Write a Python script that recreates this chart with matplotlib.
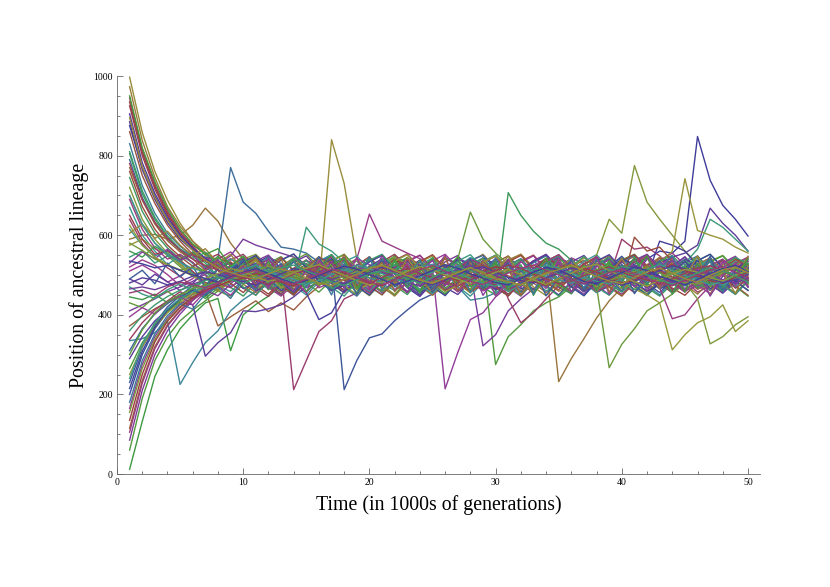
import colorsys
import matplotlib.pyplot as plt
from matplotlib.ticker import MultipleLocator

plt.rcParams['font.family'] = ['Liberation Serif', 'DejaVu Serif']

x_ticks = [0, 10, 20, 30, 40, 50]
y_ticks = [0, 200, 400, 600, 800, 1000]

# position of each lineage, one value per 1000 generations (t = 1..50)
lineages = [
    [875,770,698,640,596,565,541,519,530,507, 488,472,493,514,536,521,497,510,474,461, 483,518,542,527,495,463,486,508,533,549, 512,478,457,489,516,540,503,471,496,525, 498,540,560,555,585,848,738,675,640,598],
    [945,815,728,660,610,575,553,524,541,518, 497,526,509,212,285,358,385,440,455,482, 511,538,520,491,466,487,503,532,517,474, 452,479,506,529,544,512,488,461,493,590, 565,570,548,519,486,457,473,508,527,495],
    [997,858,760,688,630,585,549,537,512,484, 466,491,515,536,502,470,840,730,540,507, 475,451,483,519,541,526,488,460,478,513, 538,552,520,486,469,495,528,507,473,448, 482,516,545,529,501,467,490,533,518,476],
    [805,705,640,596,562,529,508,483,497,522, 544,513,476,459,486,512,535,498,467,481, 517,549,530,494,462,475,506,528,489,455, 707,650,610,580,565,537,506,472,491,520, 503,468,447,478,511,536,552,519,484,462],
    [230,318,378,420,448,473,459,491,515,532, 506,471,450,487,519,543,526,212,285,342, 352,385,412,437,452,483,510,539,523,488, 461,476,504,531,547,515,482,456,472,501, 527,544,509,473,495,521,488,457,479,514],
    [520,538,524,501,473,491,515,540,558,527, 492,468,447,476,509,533,551,519,540,653, 585,570,555,541,517,483,459,474,508,536, 522,490,463,486,514,543,529,497,470,452, 481,512,537,555,526,488,461,479,510,534],
    [590,600,602,590,600,625,668,635,580,540, 513,479,457,488,521,546,530,495,466,483, 516,538,509,472,449,477,505,534,552,518, 485,460,491,523,232,290,340,392,435,468, 497,526,543,511,477,452,484,519,535,503],
    [12,132,245,312,365,400,430,441,310,400, 426,447,473,502,529,510,478,455,486,517, 541,523,489,464,481,512,537,505,469,450, 478,508,532,549,514,483,458,492,525,506, 471,448,480,513,539,521,487,463,496,527],
    [790,695,632,590,565,548,545,540,770,683, 655,610,570,565,555,532,501,469,484,515, 539,507,473,451,486,518,543,527,491,462, 480,512,536,506,470,453,489,522,547,516, 483,459,477,509,531,548,513,478,494,528],
    [165,275,345,392,425,452,479,463,488,516, 535,508,476,455,483,511,540,522,486,460, 477,509,533,549,513,214,305,388,405,445, 471,498,524,541,506,474,452,487,519,536, 502,468,491,525,544,510,476,457,485,517],
    [372,395,415,432,445,452,460,372,395,415, 435,408,430,412,445,472,506,534,517,483, 458,479,512,538,520,489,463,476,505,531, 548,514,480,456,488,521,537,503,469,447, 482,515,542,526,491,464,478,510,533,499],
    [60,190,285,345,385,412,435,460,447,476, 503,530,546,512,479,457,488,519,535,501, 468,450,484,517,541,524,490,463,528,275, 345,375,410,430,445,471,499,527,543,509, 475,452,486,520,538,505,472,460,493,522],
    [335,340,355,385,225,280,330,360,410,438, 459,484,512,539,522,487,461,478,510,534, 551,516,481,457,489,523,470,437,442,455, 478,507,531,548,513,480,463,495,526,543, 508,474,450,485,518,534,499,467,488,521],
    [410,425,440,458,470,484,502,526,548,590, 575,565,555,545,527,494,463,479,511,537, 520,485,459,476,508,533,549,510,322,350, 410,440,465,492,520,541,507,473,451,486, 519,544,527,492,466,480,513,538,503,470],
    [935,808,722,655,605,572,540,518,533,506, 474,452,485,517,538,503,469,490,524,546, 511,478,456,483,516,541,526,489,463,477, 509,535,550,515,482,458,491,522,538,500, 540,525,496,467,449,481,514,537,521,486],
    [700,625,580,548,521,496,517,543,526,489, 465,479,510,536,553,518,484,459,474,507, 532,546,512,477,455,487,540,658,590,555, 528,494,462,480,513,539,504,470,267,326, 365,410,430,452,479,508,535,549,516,481],
    [670,600,560,526,549,531,502,474,458,487, 519,541,508,473,450,483,515,533,548,512, 478,461,492,526,542,506,471,447,482,516, 539,523,488,460,476,509,534,551,517,483, 456,490,524,537,501,467,479,511,536,519],
    [290,345,385,412,432,425,296,330,355,410, 408,415,425,445,471,500,527,544,511,479, 456,488,520,536,503,469,451,484,518,540, 526,490,464,478,510,533,549,514,482,460, 493,525,530,545,555,575,668,630,600,560],
    [925,800,716,650,602,568,538,552,525,492, 468,446,480,512,537,519,486,462,475,508, 534,552,517,481,457,489,522,541,506,472, 449,483,516,539,524,490,464,477,509,531, 547,513,479,455,486,520,538,502,468,491],
    [720,640,590,555,525,503,476,492,518,540, 552,520,487,463,478,511,536,505,471,448, 482,515,543,527,493,465,480,512,535,549, 513,478,456,489,521,538,501,550,640,605, 775,683,640,600,560,529,496,465,484,517],
    [545,561,530,548,533,507,478,496,522,544, 510,476,452,486,620,578,560,532,498,466, 481,513,539,524,490,461,475,508,533,550, 516,482,457,491,523,540,504,470,449,484, 517,542,527,515,530,565,640,620,590,560],
    [885,765,690,632,590,562,535,512,486,503, 529,547,514,480,455,388,405,460,487,519, 536,502,468,446,481,514,541,525,489,463, 477,510,534,551,518,484,458,490,523,506, 472,495,585,575,560,524,491,466,483,516],
    [640,580,545,518,497,470,489,515,538,552, 519,485,461,474,507,531,548,513,478,455, 488,521,537,503,469,450,483,517,542,526, 440,380,405,440,473,503,529,546,512,478, 456,487,520,538,505,471,494,526,544,509],
    [575,590,566,553,529,498,476,458,484,516, 540,523,489,463,479,512,535,551,516,482, 459,475,508,532,548,514,479,455,488,521, 539,504,470,448,483,518,543,526,491,465, 478,511,530,560,742,612,600,590,570,555],
    [745,660,605,568,540,555,530,496,469,447, 482,515,537,552,518,484,460,493,525,541, 507,473,451,486,519,544,528,492,466,480, 513,538,503,469,489,522,546,511,477,457, 484,517,535,549,515,481,463,496,527,542],
    [200,300,365,408,440,466,452,481,513,538, 522,488,461,476,509,534,550,515,480,458, 491,524,540,505,471,448,484,518,543,527, 492,465,479,512,536,502,468,489,521,547, 513,478,456,487,520,537,503,470,494,525],
    [690,615,568,540,552,532,499,470,486,518, 541,506,472,449,483,516,538,523,489,462, 477,510,535,550,516,481,458,491,524,507, 473,451,485,519,544,528,493,466,479,513, 537,502,468,390,400,440,473,502,529,545],
    [973,838,745,672,622,585,557,534,510,477, 456,489,522,543,508,474,490,524,540,505, 471,447,482,516,539,526,491,464,478,511, 536,552,517,483,459,475,508,533,549,514, 480,457,488,521,505,469,492,525,542,508],
    [445,438,452,430,446,462,441,467,493,520, 537,503,470,452,485,518,541,509,475,459, 492,526,544,510,476,453,486,519,535,500, 466,481,514,538,522,488,462,477,510,534, 551,516,482,458,490,523,540,504,471,447],
    [310,365,402,428,452,437,465,490,517,540, 526,492,466,479,512,536,502,469,447,483, 516,542,527,493,465,480,513,537,549,515, 481,457,488,521,505,472,491,524,541,507, 473,450,484,518,539,523,489,463,476,510],
    [510,525,507,482,498,520,543,528,494,467, 450,485,519,535,501,468,482,515,541,526, 491,464,478,511,536,552,518,484,460,474, 507,532,548,513,479,456,489,522,538,504, 470,492,525,543,509,475,453,486,519,534],
    [115,235,320,375,412,440,456,478,507,533, 548,514,480,456,488,521,537,503,469,491, 524,542,508,474,451,485,518,540,525,490, 463,477,510,535,551,517,483,459,475,508, 532,546,512,478,495,527,543,507,473,449],
    [265,330,375,408,435,459,446,474,505,529, 545,511,477,455,487,520,536,502,468,483, 517,541,526,492,465,479,512,537,503,469, 448,483,516,542,527,493,466,480,513,538, 552,518,485,461,475,508,533,548,514,479],
    [830,725,655,605,572,548,520,497,471,488, 521,545,529,495,468,482,515,538,504,470, 451,486,519,534,500,466,492,525,543,509, 475,453,487,520,541,526,491,463,477,510, 536,551,516,482,458,490,523,539,505,472],
    [85,210,300,360,402,436,461,448,477,509, 535,550,516,481,457,489,522,538,504,470, 484,517,540,525,491,464,478,511,536,503, 469,447,482,515,542,527,492,466,480,513, 537,552,518,484,460,474,507,531,547,512],
    [760,672,615,575,546,522,538,512,479,456, 488,521,544,509,474,491,524,540,506,472, 450,485,518,534,551,517,482,458,475,508, 533,549,514,480,463,495,527,543,508,473, 595,560,570,535,502,468,484,517,539,524],
    [430,418,445,459,437,466,492,473,499,526, 542,507,473,450,484,517,536,552,518,483, 459,476,509,534,500,466,491,525,541,506, 472,449,483,516,539,524,490,464,478,511, 535,501,467,489,522,546,512,477,455,487],
    [615,575,548,560,534,505,477,493,519,541, 507,473,452,486,520,535,551,516,481,458, 491,524,509,475,453,487,521,544,528,493, 467,480,513,538,504,470,448,483,516,533, 549,515,481,457,488,522,539,505,471,494],
    [490,475,502,483,461,479,510,533,516,487, 460,476,508,532,548,513,479,456,490,523, 540,506,472,449,484,517,541,526,492,465, 478,511,536,552,518,484,459,475,508,534, 503,469,489,522,546,511,477,454,486,519],
    [650,590,552,561,538,509,481,463,490,524, 542,508,474,451,485,518,535,501,467,482, 515,539,524,490,464,478,511,537,503,470, 447,482,516,542,527,492,465,479,512,536, 551,517,483,458,491,525,509,474,452,486],
    [155,265,338,388,420,447,472,460,487,520, 536,503,469,490,523,541,507,473,451,486, 519,544,528,493,466,480,513,538,522,488, 462,477,510,534,550,515,481,457,489,521, 505,471,494,512,480,440,327,345,375,395],
    [470,452,441,463,478,461,489,515,540,525, 491,464,479,512,537,503,469,447,483,516, 539,524,490,463,477,510,535,551,517,482, 458,475,508,532,548,514,480,456,488,521, 538,504,470,492,525,542,508,474,451,485],
    [905,782,705,645,600,568,542,520,494,466, 481,514,538,553,519,485,461,474,507,533, 549,514,479,455,487,520,537,503,469,491, 524,541,507,473,450,484,517,535,551,516, 482,459,476,509,534,500,466,480,513,538],
    [338,380,412,435,458,441,469,498,525,542, 508,474,452,486,519,543,527,492,465,479, 512,537,553,519,485,461,475,508,531,547, 513,478,455,488,521,536,502,468,483,517, 540,525,491,464,477,510,535,501,467,489],
    [250,320,370,405,430,454,478,465,492,519, 535,501,467,483,516,540,525,491,463,477, 510,535,551,517,482,458,474,507,532,548, 514,480,456,489,522,538,504,470,491,480, 465,450,430,312,350,380,395,425,358,385],
    [810,712,645,598,565,542,556,528,497,470, 449,484,517,542,526,492,466,480,513,537, 552,518,484,460,475,508,534,500,466,490, 523,540,505,471,447,482,515,538,523,489, 463,478,511,536,503,469,486,519,544,528],
    [215,308,370,412,440,462,449,476,508,533, 549,515,481,457,490,524,541,506,472,450, 485,519,535,501,467,482,515,539,525,491, 464,478,511,537,503,470,448,483,516,541, 526,492,465,479,512,536,552,518,485,461],
    [105,228,315,372,410,438,460,480,468,496, 523,539,505,471,488,521,546,512,477,455, 487,520,537,503,469,483,516,540,525,490, 463,477,510,534,551,517,483,459,476,509, 533,548,513,479,457,490,524,540,506,472],
    [605,628,592,610,575,548,566,530,552,512, 541,498,526,471,507,538,482,519,463,501, 533,476,545,490,457,516,484,529,468,511, 547,495,452,503,536,474,521,459,498,542, 486,517,465,530,493,548,470,509,453,524],
    [560,545,572,553,534,558,520,547,511,489, 527,463,504,539,478,516,551,492,455,523, 487,534,469,508,544,481,512,458,497,535, 472,526,449,506,540,484,517,461,532,495, 545,476,513,452,521,488,538,467,502,530],
    [490,512,478,530,495,522,468,515,483,540, 472,505,528,459,494,546,480,517,451,509, 536,470,498,525,456,513,487,542,466,503, 531,477,519,448,496,539,462,511,484,527, 453,500,535,473,518,491,547,460,506,482],
    [395,418,402,433,447,425,458,472,449,485, 510,466,523,492,455,537,501,478,544,463, 512,486,529,471,506,550,458,494,520,447, 483,535,499,466,541,475,508,529,452,517, 490,546,468,503,461,526,487,534,474,511],
    [770,688,628,586,558,540,512,533,498,524, 476,509,541,464,495,528,483,552,470,506, 531,458,493,519,477,545,461,502,534,488, 515,450,498,538,472,524,486,543,457,510, 493,527,469,536,481,505,449,520,490,547],
    [950,820,735,666,615,578,552,566,522,548, 497,535,473,512,459,488,526,541,467,503, 479,538,494,455,520,508,546,471,486,530, 462,515,499,542,477,453,524,490,536,468, 511,548,483,505,458,529,474,517,495,540],
    [180,285,352,398,428,414,452,470,441,489, 463,518,496,535,474,507,450,529,483,546, 461,512,491,538,469,505,524,456,497,543, 478,515,452,532,488,509,467,540,494,459, 526,481,513,549,472,501,535,457,520,486],
    [530,558,541,565,537,552,515,538,496,521, 470,543,488,458,516,499,534,466,527,480, 549,492,455,511,537,473,504,526,449,495, 540,468,518,484,532,457,506,546,475,491, 523,460,508,536,482,515,447,498,528,469],
    [860,750,680,625,585,552,536,521,509,503, 496,488,497,511,518,507,493,486,499,514, 522,509,497,490,476,488,503,516,524,511, 498,484,492,507,519,526,513,497,483,491, 505,518,510,495,487,501,516,508,494,502],
    [300,362,405,433,451,466,474,483,494,489, 501,514,507,492,484,478,490,505,517,509, 498,487,496,510,523,514,500,489,481,494, 508,516,503,491,479,486,499,513,525,512, 497,486,493,507,519,506,491,483,497,510],
    [700,628,580,552,532,516,508,497,503,515, 524,511,498,489,477,486,502,513,506,493, 481,490,505,519,527,510,496,485,474,492, 506,520,509,497,488,479,494,508,516,504, 490,499,512,522,511,495,484,476,491,505],
    [465,470,463,474,482,477,488,496,505,498, 486,475,491,504,512,501,489,497,511,520, 507,495,483,472,489,503,514,523,510,498, 485,493,507,518,502,490,477,486,500,513, 525,509,494,481,497,511,503,488,479,493],
    [135,250,332,384,418,444,462,473,485,492, 504,496,482,473,488,500,511,505,494,481, 473,490,506,519,512,498,486,495,509,521, 514,499,483,474,491,504,517,507,492,480, 487,502,515,526,511,497,485,479,494,507],
    [580,562,540,526,513,520,509,494,487,499, 511,522,514,499,488,476,483,497,509,518, 525,513,500,487,478,492,505,519,508,494, 482,474,489,503,515,522,510,496,486,497, 509,520,505,490,481,477,492,506,517,513],
    [240,325,380,415,441,458,470,481,491,503, 515,507,495,482,475,487,501,512,524,516, 503,491,480,494,507,517,505,492,479,472, 486,499,513,525,518,504,493,484,478,490, 502,514,527,512,498,489,475,484,499,511],
    [480,493,487,475,484,497,508,502,490,483, 474,489,503,516,508,495,485,478,492,506, 519,510,496,483,476,487,501,514,521,507, 494,486,480,493,505,518,511,499,487,474, 484,498,511,523,516,502,491,481,488,501],
    [780,690,632,592,563,540,524,512,500,493, 487,476,490,502,513,522,509,497,488,479, 494,508,516,504,493,483,472,488,500,511, 525,517,502,490,478,485,498,510,520,507, 496,487,476,490,504,517,523,509,495,486],
    [625,575,545,526,511,499,491,504,516,509, 495,484,491,506,517,526,512,499,486,475, 482,496,509,521,513,500,490,478,493,507, 514,501,488,476,491,504,519,527,511,497, 483,472,488,503,514,507,493,485,500,512],
    [360,398,425,446,462,473,486,495,489,478, 492,505,518,525,510,498,483,474,488,503, 511,504,491,479,494,509,520,512,497,485, 476,490,506,515,503,487,480,496,508,522, 514,500,488,477,491,505,518,509,497,483],
    [535,528,518,524,512,500,491,482,495,507, 516,504,490,479,486,499,512,522,515,501, 489,476,484,498,511,526,517,503,492,481, 475,491,507,519,512,498,484,478,493,506, 520,511,497,486,475,489,504,516,524,508],
    [455,462,448,470,482,476,468,481,493,505, 512,498,485,477,490,502,515,508,494,483, 475,488,501,513,524,509,496,484,476,491, 505,517,525,512,500,487,479,493,506,514, 503,491,480,474,487,500,512,521,507,493],
    [895,772,695,638,594,562,537,518,506,497, 490,503,515,507,493,480,473,489,502,516, 524,511,498,487,479,493,507,518,504,490, 483,476,492,505,513,526,510,497,485,478, 494,508,517,505,491,482,499,513,520,506],
]

fig = plt.figure(figsize=(8.3, 5.87), dpi=100)
ax = fig.add_axes([117 / 830, 1 - 474 / 587, 643 / 830, 398 / 587])

# hue walks round the wheel from line to line
for i, path in enumerate(lineages):
    hue = (0.67 + i * 0.2387) % 1
    ax.plot(range(1, len(path) + 1), path, color=colorsys.hsv_to_rgb(hue, 0.6, 0.6), lw=1.0)

ax.set_xlim(0, 50.95)
ax.set_ylim(0, 1000)
ax.set_xticks(x_ticks)
ax.set_yticks(y_ticks)
ax.xaxis.set_minor_locator(MultipleLocator(2))
ax.yaxis.set_minor_locator(MultipleLocator(50))
ax.tick_params(which='major', direction='in', length=4.5, width=0.6, color='#666666', labelsize=7, pad=3)
ax.tick_params(which='minor', direction='in', length=2.5, width=0.6, color='#666666')
for side in ['top', 'right']:
    ax.spines[side].set_visible(False)
for side in ['left', 'bottom']:
    ax.spines[side].set_linewidth(0.6)
    ax.spines[side].set_color('#666666')

ax.set_xlabel('Time (in 1000s of generations)', fontsize=14.3, labelpad=6)
ax.set_ylabel('Position of ancestral lineage', fontsize=14.3, labelpad=3)

fig.savefig('out.png', dpi=100)
